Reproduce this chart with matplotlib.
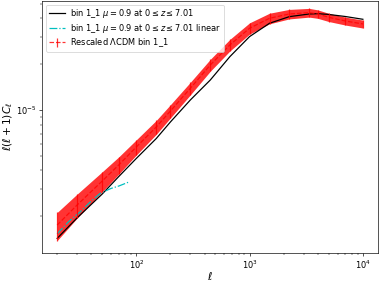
import numpy as np
import matplotlib
matplotlib.use("Agg")
import matplotlib.pyplot as plt

# non linear theory, bin 1_1
ell_nl = [20, 30, 50, 70, 100, 150, 200, 300, 450, 670, 1000, 1500, 2240, 3360, 4000, 5000, 7000, 10000]
cl_nl = [1.43e-6, 1.95e-6, 2.80e-6, 3.65e-6, 4.80e-6, 6.49e-6, 8.34e-6, 1.164e-5, 1.575e-5, 2.244e-5,
         3.04e-5, 3.72e-5, 4.11e-5, 4.28e-5, 4.30e-5, 4.25e-5, 4.12e-5, 3.95e-5]

# linear theory, only low ell
ell_lin = [20, 25, 32, 40, 48, 60, 70, 87]
cl_lin = [1.53e-6, 1.83e-6, 2.14e-6, 2.52e-6, 2.83e-6, 3.05e-6, 3.16e-6, 3.37e-6]

# rescaled LCDM with errors
ell_r = [20, 30, 50, 70, 100, 150, 200, 300, 450, 670, 1000, 1500, 2240, 3360, 4000, 5000, 7000, 10000]
cl_r = [1.75e-6, 2.37e-6, 3.41e-6, 4.35e-6, 5.71e-6, 7.73e-6, 9.85e-6, 1.390e-5, 1.977e-5, 2.68e-5,
        3.45e-5, 4.01e-5, 4.28e-5, 4.37e-5, 4.28e-5, 4.07e-5, 3.85e-5, 3.68e-5]
err_frac = [0.21, 0.18, 0.15, 0.13, 0.115, 0.105, 0.10, 0.095, 0.09, 0.088,
            0.085, 0.08, 0.072, 0.066, 0.064, 0.062, 0.06, 0.06]

cl_r = np.array(cl_r)
err_r = cl_r * np.array(err_frac)

W, H = 379, 283
dpi = 59
fig = plt.figure(figsize=(W / dpi, H / dpi), dpi=dpi)
ax = fig.add_axes([42 / W, 30 / H, 336 / W, 252.5 / H])

ax.plot(ell_nl, cl_nl, 'k-', label=r'bin 1_1 $\mu=0.9$ at $0\leq z\leq 7.01$')
ax.plot(ell_lin, cl_lin, 'c-.', label=r'bin 1_1 $\mu=0.9$ at $0\leq z\leq 7.01$ linear')
ax.fill_between(ell_r, cl_r - err_r, cl_r + err_r, color='red', alpha=0.8, lw=0)
ax.errorbar(ell_r, cl_r, yerr=err_r, fmt='--', color='red', alpha=0.8,
            label=r'Rescaled $\Lambda$CDM bin 1_1')

ax.set_xscale('log')
ax.set_yscale('log')
ax.set_xlim(14.7, 13600)
ax.set_ylim(1.146e-6, 5.25e-5)
ax.set_xlabel(r'$\ell$', fontsize=13)
ax.set_ylabel(r'$\ell(\ell+1)C_\ell$', fontsize=13)
ax.xaxis.set_label_coords(0.5, -(270 - 253) / 252.5)
ax.yaxis.set_label_coords(-(42 - 15.5) / 336, 0.5)

# legend: width of the reference frame, with tighter rows
leg_kw = dict(loc='upper left', labelspacing=0.2, borderpad=0.3, handletextpad=0.6)
fs = 10.0
leg = ax.legend(fontsize=fs, **leg_kw)
for _ in range(3):
    fig.canvas.draw()
    w = leg.get_window_extent().width
    fs = fs * 178 / w
    leg = ax.legend(fontsize=fs, **leg_kw)

fig.savefig('out.png', dpi=dpi)
